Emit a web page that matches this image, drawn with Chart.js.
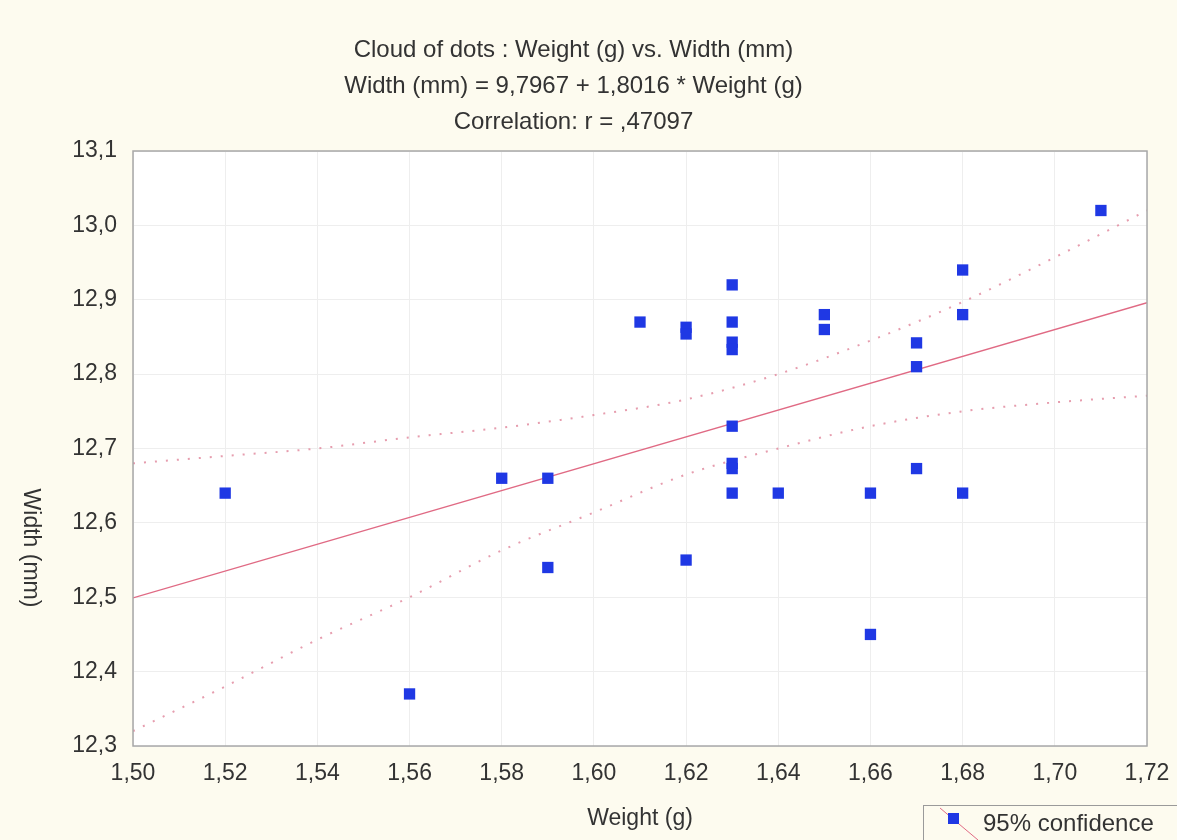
<!DOCTYPE html>
<html>
<head>
<meta charset="utf-8">
<script src="https://cdn.jsdelivr.net/npm/chart.js@4/dist/chart.umd.min.js"></script>
<style>
  html, body { margin: 0; padding: 0; background: #fdfbef; }
  #wrap { width: 1177px; height: 840px; }
</style>
</head>
<body>
<div id="wrap"><canvas id="scatter"></canvas></div>
<script>
// values
const weights = [1.52, 1.56, 1.58, 1.59, 1.59, 1.61, 1.62, 1.62, 1.62, 1.63, 1.63, 1.63, 1.63, 1.63, 1.63, 1.63, 1.63,
                 1.64, 1.65, 1.65, 1.66, 1.66, 1.67, 1.67, 1.67, 1.68, 1.68, 1.68, 1.71];
const widths = [12.64, 12.37, 12.66, 12.66, 12.54, 12.87, 12.863, 12.854, 12.55, 12.92, 12.87, 12.843, 12.833, 12.73, 12.68, 12.673, 12.64,
                12.64, 12.88, 12.86, 12.64, 12.45, 12.842, 12.81, 12.673, 12.94, 12.88, 12.64, 13.02];

const fitX = [1.50, 1.72];
const fitY = [12.499, 12.896];

const bandX = [1.50, 1.52, 1.54, 1.56, 1.58, 1.60, 1.62, 1.64, 1.66, 1.68, 1.70, 1.72];
const bandUpper = [12.68, 12.69, 12.70, 12.715, 12.728, 12.745, 12.766, 12.80, 12.845, 12.897, 12.957, 13.02];
const bandLower = [12.32, 12.38, 12.443, 12.50, 12.563, 12.614, 12.665, 12.70, 12.73, 12.75, 12.762, 12.771];

const titleLines = ["Cloud of dots : Weight (g) vs. Width (mm)",
                    "Width (mm) = 9,7967 + 1,8016 * Weight (g)",
                    "Correlation: r = ,47097"];

const pts = (xs, ys) => xs.map((x, i) => ({x: x, y: ys[i]}));
const FONT = "'Liberation Sans', Arial, sans-serif";
const blue = '#1f38e4';
const fitColor = '#e06a84';
const bandColor = 'rgba(226,140,160,0.85)';

// plot background, frame, rotated y title and the legend box
const decor = {
  id: 'decor',
  beforeDraw(chart) {
    const {ctx, chartArea: a} = chart;
    ctx.save();
    ctx.fillStyle = '#ffffff';
    ctx.fillRect(a.left, a.top, a.right - a.left, a.bottom - a.top);
    ctx.restore();
  },
  afterDraw(chart) {
    const {ctx, chartArea: a} = chart;
    ctx.save();
    ctx.strokeStyle = '#a8a8a8';
    ctx.lineWidth = 1.5;
    ctx.strokeRect(a.left, a.top, a.right - a.left, a.bottom - a.top);

    // y axis title, reading top to bottom
    ctx.translate(30, 548);
    ctx.rotate(Math.PI / 2);
    ctx.fillStyle = '#333';
    ctx.font = '23px ' + FONT;
    ctx.textAlign = 'center';
    ctx.textBaseline = 'middle';
    ctx.fillText('Width (mm)', 0, 0);
    ctx.restore();

    // legend
    ctx.save();
    ctx.fillStyle = '#fdfbef';
    ctx.strokeStyle = '#9a9a9a';
    ctx.lineWidth = 1;
    ctx.fillRect(923.5, 805.5, 260, 40);
    ctx.strokeRect(923.5, 805.5, 260, 40);
    ctx.strokeStyle = fitColor;
    ctx.beginPath();
    ctx.moveTo(940, 808);
    ctx.lineTo(978, 840);
    ctx.stroke();
    ctx.fillStyle = blue;
    ctx.fillRect(948, 813, 11, 11);
    ctx.fillStyle = '#333';
    ctx.font = '24px ' + FONT;
    ctx.textBaseline = 'middle';
    ctx.fillText('95% confidence', 983, 824);
    ctx.restore();
  }
};

new Chart(document.getElementById('scatter'), {
  type: 'scatter',
  data: {
    datasets: [
      {
        label: '95% confidence',
        data: pts(weights, widths),
        pointStyle: 'rect',
        pointRadius: 8,
        backgroundColor: blue,
        borderColor: blue,
        borderWidth: 0,
        order: 0
      },
      {
        data: pts(fitX, fitY),
        showLine: true,
        pointRadius: 0,
        borderColor: fitColor,
        borderWidth: 1.3,
        order: 1
      },
      {
        data: pts(bandX, bandUpper),
        showLine: true,
        cubicInterpolationMode: 'monotone',
        pointRadius: 0,
        borderColor: bandColor,
        borderWidth: 2,
        borderDash: [2, 9],
        order: 2
      },
      {
        data: pts(bandX, bandLower),
        showLine: true,
        cubicInterpolationMode: 'monotone',
        pointRadius: 0,
        borderColor: bandColor,
        borderWidth: 2,
        borderDash: [2, 9],
        order: 2
      }
    ]
  },
  options: {
    responsive: true,
    maintainAspectRatio: false,
    animation: false,
    layout: { padding: { left: 0, right: 30, top: 0, bottom: 0 } },
    plugins: {
      legend: { display: false },
      tooltip: { enabled: false },
      title: {
        display: true,
        text: titleLines,
        color: '#333',
        font: { family: FONT, size: 24, weight: 'normal', lineHeight: 1.5 },
        padding: { top: 32, bottom: 11 }
      }
    },
    scales: {
      x: {
        type: 'linear',
        min: 1.50,
        max: 1.72,
        afterFit: s => { s.height = 94; s.paddingLeft = 0; s.paddingRight = 0; },
        ticks: {
          stepSize: 0.02,
          padding: 14,
          color: '#333',
          font: { family: FONT, size: 23 },
          callback: v => v.toFixed(2).replace('.', ',')
        },
        grid: { color: '#eeeeee', drawTicks: false },
        border: { display: false },
        title: {
          display: true,
          text: 'Weight (g)',
          color: '#333',
          font: { family: FONT, size: 23 },
          padding: { top: 0, bottom: 8 }
        }
      },
      y: {
        type: 'linear',
        min: 12.3,
        max: 13.1,
        afterFit: s => { s.width = 133; },
        ticks: {
          stepSize: 0.1,
          padding: 16,
          color: '#333',
          font: { family: FONT, size: 23 },
          callback: v => v.toFixed(1).replace('.', ',')
        },
        grid: { color: '#eeeeee', drawTicks: false },
        border: { display: false }
      }
    }
  },
  plugins: [decor]
});
</script>
</body>
</html>
